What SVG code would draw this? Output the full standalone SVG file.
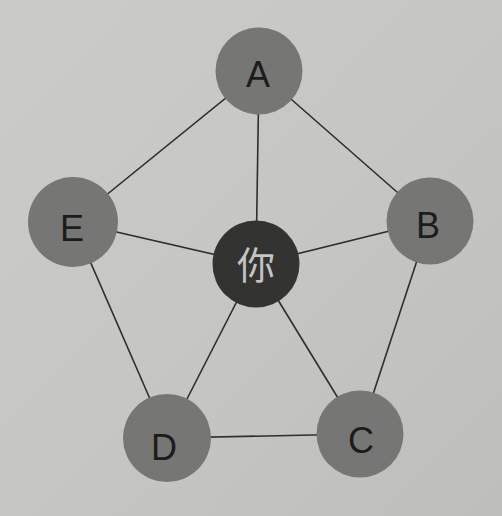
<svg xmlns="http://www.w3.org/2000/svg" width="502" height="516" viewBox="0 0 502 516">
<defs>
<linearGradient id="bg" x1="0" y1="0" x2="1" y2="1">
<stop offset="0" stop-color="#cbcbc8"/>
<stop offset="0.5" stop-color="#c6c6c3"/>
<stop offset="1" stop-color="#bebebb"/>
</linearGradient>
<style>
.edge{stroke:#2e2e2e;stroke-width:1.6;fill:none}
.node{fill:#767674}
.me{fill:#333332}
.lbl{font-family:"Liberation Sans",Arial,sans-serif;font-size:36px;fill:#1c1c1c;text-anchor:middle}
.mel{font-family:"Noto Sans CJK SC",sans-serif;font-size:38px;fill:#c4c4c2;text-anchor:middle}
</style>
</defs>
<rect width="502" height="516" fill="url(#bg)"/>
<g id="connectors">
<line class="edge" x1="259" y1="71" x2="73" y2="222"/>
<line class="edge" x1="259" y1="71" x2="430" y2="221"/>
<line class="edge" x1="259" y1="71" x2="256" y2="264"/>
<line class="edge" x1="73" y1="222" x2="256" y2="264"/>
<line class="edge" x1="430" y1="221" x2="256" y2="264"/>
<line class="edge" x1="73" y1="222" x2="167" y2="438"/>
<line class="edge" x1="430" y1="221" x2="360" y2="434"/>
<line class="edge" x1="167" y1="438" x2="360" y2="434"/>
<line class="edge" x1="256" y1="264" x2="167" y2="438"/>
<line class="edge" x1="256" y1="264" x2="360" y2="434"/>
</g>
<g id="A"><circle class="node" cx="259" cy="71" r="43.5"/><text class="lbl" x="258" y="87">A</text></g>
<g id="B"><circle class="node" cx="430" cy="221" r="43.5"/><text class="lbl" x="428" y="238">B</text></g>
<g id="C"><circle class="node" cx="360" cy="434" r="43.5"/><text class="lbl" x="361" y="453">C</text></g>
<g id="D"><circle class="node" cx="167" cy="438" r="44"/><text class="lbl" x="164" y="460">D</text></g>
<g id="E"><circle class="node" cx="73" cy="222" r="45"/><text class="lbl" x="72" y="241">E</text></g>
<g id="you"><circle class="me" cx="256" cy="264" r="43.5"/><text class="mel" x="256" y="279">你</text></g>
</svg>
